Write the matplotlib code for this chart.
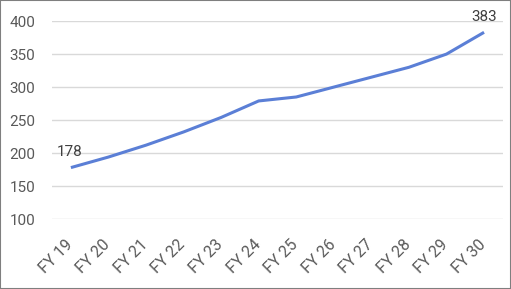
import matplotlib.pyplot as plt
import matplotlib.transforms as mtransforms

# data
years = ["FY 19", "FY 20", "FY 21", "FY 22", "FY 23", "FY 24",
         "FY 25", "FY 26", "FY 27", "FY 28", "FY 29", "FY 30"]
values = [178, 194, 212, 232, 254, 279, 285, 300, 315, 330, 350, 383]
yticks = [100, 150, 200, 250, 300, 350, 400]

plt.rcParams['font.family'] = ['Roboto', 'DejaVu Sans']

fig = plt.figure(figsize=(5.11, 2.89), dpi=100)
fig.patches.append(plt.Rectangle((0, 0), 1, 1, transform=fig.transFigure,
                                 fill=False, edgecolor='#7f7f7f', linewidth=1.5))
ax = fig.add_axes([0.102, 0.242, 0.882, 0.685])

x = range(len(years))
ax.plot(x, values, color='#5b7fd6', linewidth=2.2, solid_capstyle='butt')

ax.set_xlim(-0.5, len(years) - 0.5)
ax.set_ylim(100, 400)
ax.set_yticks(yticks)
ax.set_xticks(list(x))
ax.set_xticklabels(years, rotation=45, ha='right', rotation_mode='anchor')
ax.tick_params(axis='both', length=0, labelsize=11, labelcolor='#595959')
ax.tick_params(axis='x', labelsize=11.5, pad=13)
ax.tick_params(axis='y', pad=12)
ax.grid(axis='y', color='#d9d9d9', linewidth=1)
ax.set_axisbelow(True)
for s in ax.spines.values():
    s.set_visible(False)

# nudge x labels left so the text ends at the category
shift = mtransforms.ScaledTranslation(-6 / 100, 0, fig.dpi_scale_trans)
for lbl in ax.get_xticklabels():
    lbl.set_transform(lbl.get_transform() + shift)

# labels for first and last point
ax.annotate(str(values[0]), (0, values[0]), xytext=(-1, 6), textcoords='offset points',
            ha='center', va='bottom', fontsize=11, color='#404040')
ax.annotate(str(values[-1]), (len(years) - 1, values[-1]), xytext=(0, 6),
            textcoords='offset points', ha='center', va='bottom', fontsize=11, color='#404040')

fig.savefig('out.png', dpi=100)
